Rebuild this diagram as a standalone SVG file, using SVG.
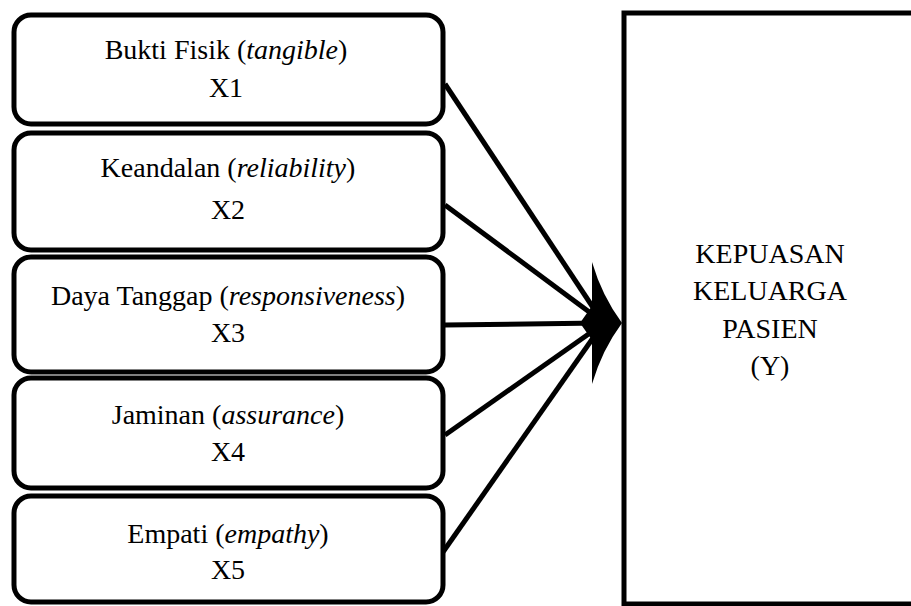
<svg xmlns="http://www.w3.org/2000/svg" width="911" height="606" viewBox="0 0 911 606">
<style>
.box{fill:#fff;stroke:#000;stroke-width:5}
.c{stroke:#000;stroke-width:5;fill:none}
</style>
<rect width="911" height="606" fill="#fff"/>
<g id="y">
<rect class="box" x="624" y="13" width="300" height="591"/>
<text x="770" y="263" font-family="Liberation Serif" font-size="28" text-anchor="middle">KEPUASAN</text>
<text x="770" y="300" font-family="Liberation Serif" font-size="28" text-anchor="middle">KELUARGA</text>
<text x="770" y="338" font-family="Liberation Serif" font-size="28" text-anchor="middle">PASIEN</text>
<text x="770" y="375" font-family="Liberation Serif" font-size="28" text-anchor="middle">(Y)</text>
</g>
<g id="x1">
<rect class="box" x="14" y="15" width="429" height="109" rx="17"/>
<text x="226" y="59" font-family="Liberation Serif" font-size="28" text-anchor="middle">Bukti Fisik (<tspan font-style="italic">tangible</tspan>)</text>
<text x="226" y="97" font-family="Liberation Serif" font-size="28" text-anchor="middle">X1</text>
</g>
<g id="x2">
<rect class="box" x="14" y="133" width="429" height="117" rx="17"/>
<text x="228" y="177" font-family="Liberation Serif" font-size="28" text-anchor="middle">Keandalan (<tspan font-style="italic">reliability</tspan>)</text>
<text x="228" y="219" font-family="Liberation Serif" font-size="28" text-anchor="middle">X2</text>
</g>
<g id="x3">
<rect class="box" x="14" y="257" width="429" height="115" rx="17"/>
<text x="228" y="305" font-family="Liberation Serif" font-size="28" text-anchor="middle">Daya Tanggap (<tspan font-style="italic">responsiveness</tspan>)</text>
<text x="228" y="342" font-family="Liberation Serif" font-size="28" text-anchor="middle">X3</text>
</g>
<g id="x4">
<rect class="box" x="14" y="378" width="429" height="110" rx="17"/>
<text x="228" y="424" font-family="Liberation Serif" font-size="28" text-anchor="middle">Jaminan (<tspan font-style="italic">assurance</tspan>)</text>
<text x="228" y="461" font-family="Liberation Serif" font-size="28" text-anchor="middle">X4</text>
</g>
<g id="x5">
<rect class="box" x="14" y="496" width="429" height="106" rx="17"/>
<text x="228" y="543" font-family="Liberation Serif" font-size="28" text-anchor="middle">Empati (<tspan font-style="italic">empathy</tspan>)</text>
<text x="228" y="579" font-family="Liberation Serif" font-size="28" text-anchor="middle">X5</text>
</g>
<g id="connectors">
<line class="c" x1="445" y1="84" x2="600" y2="318"/>
<line class="c" x1="445" y1="205" x2="600" y2="320"/>
<line class="c" x1="445" y1="325" x2="600" y2="323"/>
<line class="c" x1="445" y1="435" x2="600" y2="326"/>
<line class="c" x1="443" y1="552" x2="600" y2="328"/>
<path d="M592,262 Q602,296 622,323 Q602,350 592,384 L592,340 L580,323 L592,306 Z" fill="#000"/>
</g>
</svg>
